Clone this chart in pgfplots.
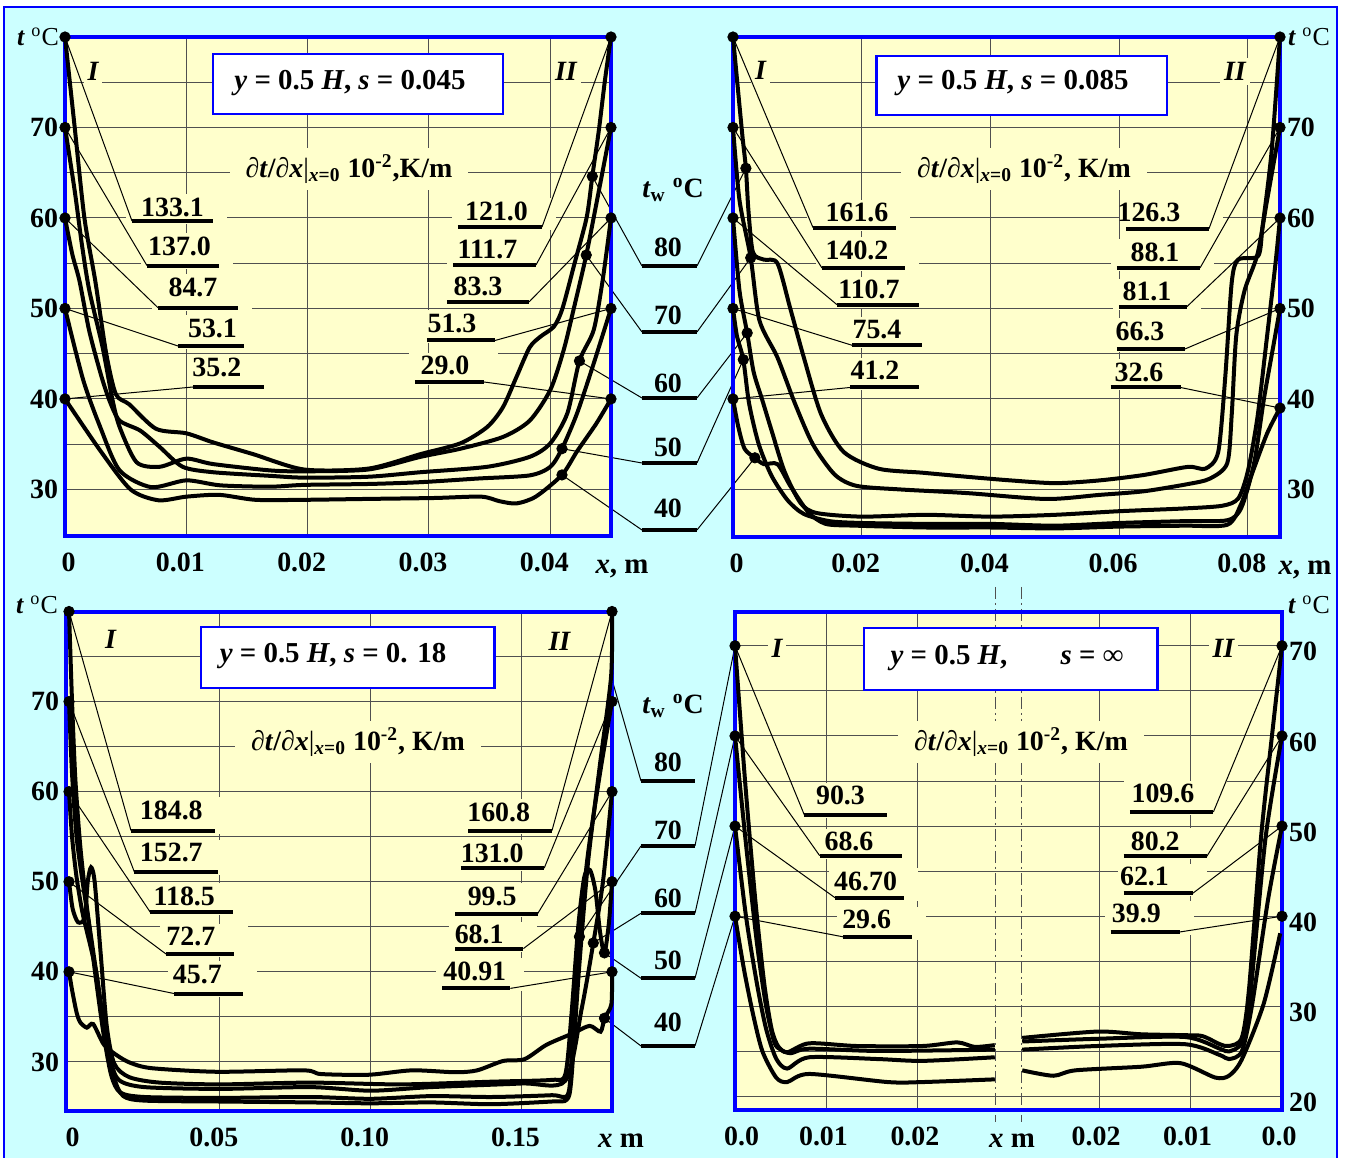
\documentclass[border=0pt]{standalone}
\usepackage{fontspec}
\setmainfont{Liberation Serif}
\usepackage{pgfplots}
\pgfplotsset{compat=1.18}
\definecolor{bgc}{HTML}{CCFFFF}
\definecolor{panel}{HTML}{FFFFCC}
\definecolor{fblue}{HTML}{0000FF}
\definecolor{gridc}{HTML}{505050}
\newcommand\fs[1]{\fontsize{#1}{#1}\selectfont}
\newcommand\bi[1]{\textbf{\textit{#1}}}
% underlined value inside a panel: text, xc, yc, x1, x2, yline (pixels)
\newcommand\ulab[6]{\fill[panel] ({#4-6},{#3-13}) rectangle ({#5+14},{#6+3});
  \node[font=\fs{14}\bfseries, inner sep=0pt] at (#2,#3) {#1};
  \draw[line width=2bp] (#4,#6) -- (#5,#6);}
\newcommand\twlab[6]{\node[font=\fs{14}\bfseries, inner sep=0pt] at (#2,#3) {#1};
  \draw[line width=2bp] (#4,#6) -- (#5,#6);}
\newcommand\dlab[3]{\node[fill=panel, inner xsep=8bp, inner ysep=3bp, font=\fs{14}\bfseries] at (#1,#2)
  {{\mdseries ∂}\textit{t}/{\mdseries ∂}\textit{x}{\mdseries |}\textsubscript{\textit{x}=0} 10\textsuperscript{-2}#3};}
\newcommand\tC[2]{\node[font=\fs{13}] at (#1,#2) {\bi{t} \textsuperscript{o}C};}
\newcommand\rom[3]{\node[fill=panel, inner sep=2bp, font=\fs{14}\bfseries\itshape] at (#1,#2) {#3};}

\pgfplotsset{
  gridax/.style={scale only axis, anchor=north west, axis background/.style={fill=panel},
    axis line style={draw=none}, grid=both,
    major grid style={draw=gridc, line width=0.5bp}, minor grid style={draw=gridc, line width=0.5bp},
    major tick length=0pt, minor tick length=0pt,
    tick label style={font=\fs{14}\bfseries}, xticklabel style={yshift=-5bp, xshift=-3bp},
    extra x tick style={grid=none, xticklabel style={xshift=4.8bp}},
    scaled x ticks=false, scaled y ticks=false},
  curveax/.style={scale only axis, anchor=north west, axis line style={draw=fblue, line width=2bp},
    xtick=\empty, ytick=\empty, clip=false, cycle list={{black,solid,no markers}},
    every axis plot/.append style={line width=2bp, black, smooth, tension=0.45}},
  dots/.style={only marks, mark=*, mark size=2.6bp, line width=0.4bp, black},
}

\begin{document}
\begin{tikzpicture}
\path[use as bounding box] (0,0) rectangle (673bp,-579bp);
\fill[white] (0,0) rectangle (673bp,-579bp);
\begin{scope}[x=0.5bp,y=-0.5bp]
\draw[fblue, line width=1bp, fill=bgc] (4,7) rectangle (1337,1175);
\end{scope}

% ---------- grids ----------
\begin{axis}[gridax, at={(32.5bp,-18.5bp)}, width=273bp, height=249.5bp,
  xmin=0, xmax=0.045, ymin=24.85, ymax=80,
  xtick={0.01,0.02,0.03,0.04}, xticklabels={0.01,0.02,0.03,0.04},
  extra x ticks={0}, extra x tick labels={0},
  ytick={30,40,50,60,70}, yticklabels={30,40,50,60,70}, minor ytick={35,45,55,65,75}]
\coordinate (aL80) at (axis cs:0,80); \coordinate (aL70) at (axis cs:0,70);
\coordinate (aL60) at (axis cs:0,60); \coordinate (aL50) at (axis cs:0,50);
\coordinate (aL40) at (axis cs:0,40);
\coordinate (aR80) at (axis cs:0.045,80); \coordinate (aR70) at (axis cs:0.045,70);
\coordinate (aR60) at (axis cs:0.045,60); \coordinate (aR50) at (axis cs:0.045,50);
\coordinate (aR40) at (axis cs:0.045,40);
\coordinate (aT80) at (axis cs:0.04346,64.6); \coordinate (aT70) at (axis cs:0.04296,55.9);
\coordinate (aT60) at (axis cs:0.0424,44.2); \coordinate (aT50) at (axis cs:0.04096,34.5);
\coordinate (aT40) at (axis cs:0.04096,31.6);
\end{axis}

\begin{axis}[gridax, at={(366.5bp,-18.5bp)}, width=273.5bp, height=250bp,
  xmin=0, xmax=0.085, ymin=24.75, ymax=80, yticklabel pos=right,
  xtick={0.02,0.04,0.06,0.08}, xticklabels={0.02,0.04,0.06,0.08},
  extra x ticks={0}, extra x tick labels={0},
  ytick={30,40,50,60,70}, yticklabels={30,40,50,60,70}, minor ytick={35,45,55,65,75}]
\coordinate (bL80) at (axis cs:0,80); \coordinate (bL70) at (axis cs:0,70);
\coordinate (bL60) at (axis cs:0,60); \coordinate (bL50) at (axis cs:0,50);
\coordinate (bL40) at (axis cs:0,40);
\coordinate (bR80) at (axis cs:0.085,80); \coordinate (bR70) at (axis cs:0.085,70);
\coordinate (bR60) at (axis cs:0.085,60); \coordinate (bR50) at (axis cs:0.085,50);
\coordinate (bR40) at (axis cs:0.085,39);
\coordinate (bT80) at (axis cs:0.0020,65.5); \coordinate (bT70) at (axis cs:0.00275,55.6);
\coordinate (bT60) at (axis cs:0.0022,47.3); \coordinate (bT50) at (axis cs:0.0016,44.35);
\coordinate (bT40) at (axis cs:0.0034,33.5);
\end{axis}

\begin{axis}[gridax, at={(33bp,-305.75bp)}, width=273bp, height=249.5bp,
  xmin=-0.001, xmax=0.18, ymin=24.6, ymax=80,
  xtick={0.05,0.10,0.15}, xticklabels={0.05,0.10,0.15},
  extra x ticks={0}, extra x tick labels={0},
  ytick={30,40,50,60,70}, yticklabels={30,40,50,60,70}, minor ytick={35,45,55,65,75}]
\coordinate (cL80) at (axis cs:0,80); \coordinate (cL70) at (axis cs:0,70);
\coordinate (cL60) at (axis cs:0,60); \coordinate (cL50) at (axis cs:0,50);
\coordinate (cL40) at (axis cs:0,40);
\coordinate (cR80) at (axis cs:0.18,80); \coordinate (cR70) at (axis cs:0.18,70);
\coordinate (cR60) at (axis cs:0.18,60); \coordinate (cR50) at (axis cs:0.18,50);
\coordinate (cR40) at (axis cs:0.18,40);
\coordinate (cT80) at (axis cs:0.1797,72.8); \coordinate (cT70) at (axis cs:0.1692,43.9);
\coordinate (cT60) at (axis cs:0.1738,43.2); \coordinate (cT50) at (axis cs:0.1775,42.1);
\coordinate (cT40) at (axis cs:0.1775,34.85);
\end{axis}

\begin{axis}[gridax, at={(367.5bp,-306bp)}, width=273.5bp, height=249bp,
  xmin=0, xmax=0.0598, ymin=18.5, ymax=73.75, yticklabel pos=right,
  xtick={0.01,0.02,0.0398,0.0498,0.0598}, xticklabels={0.01,0.02,0.02,0.01,0.0},
  extra x ticks={0}, extra x tick labels={0.0},
  xticklabel style={xshift=1.5bp},
  ytick={20,30,40,50,60,70}, yticklabels={20,30,40,50,60,70}, minor ytick={25,35,45,55,65},
  yticklabel style={yshift=-3bp}]
\coordinate (dL70) at (axis cs:0,70); \coordinate (dL60) at (axis cs:0,60);
\coordinate (dL50) at (axis cs:0,50); \coordinate (dL40) at (axis cs:0,40);
\coordinate (dR70) at (axis cs:0.0598,70); \coordinate (dR60) at (axis cs:0.0598,60);
\coordinate (dR50) at (axis cs:0.0598,50); \coordinate (dR40) at (axis cs:0.0598,40);
\end{axis}

% ---------- annotations (pixel units) ----------
\begin{scope}[x=0.5bp,y=-0.5bp, every path/.append style={line width=0.5bp}]
% panel 1
\draw[fblue, line width=1.2bp, fill=white] (213,54) rectangle (503,114);
\node[font=\fs{14.5}\bfseries] at (350,83) {\textit{y} = 0.5 \textit{H}, \textit{s} = 0.045};
\rom{93}{71.5}{I} \rom{566}{71.5}{II}
\dlab{349}{169}{,K/m}
\ulab{133.1}{172.5}{207}{132}{213}{221}
\ulab{137.0}{179.5}{246}{147}{219}{265.6}
\ulab{84.7}{193}{287}{158}{238}{307.7}
\ulab{53.1}{212.5}{328}{178}{244}{346}
\ulab{35.2}{216.8}{367}{193}{264}{387}
\ulab{121.0}{496.5}{211}{458}{542}{227}
\ulab{111.7}{487.5}{249}{453}{536}{265}
\ulab{83.3}{478}{286}{447}{529}{302}
\ulab{51.3}{452}{323.5}{427}{495}{340.5}
\ulab{29.0}{445}{365.7}{415}{484}{382}
\draw (132,221)--(aL80) (147,265.6)--(aL70) (158,307.7)--(aL60) (178,346)--(aL50) (193,387)--(aL40);
\draw (542,227)--(aR80) (536,265)--(aR70) (529,302)--(aR60) (495,340.5)--(aR50) (484,382)--(aR40);
\tC{38}{37}
\node[font=\fs{14.5}\bfseries] at (622,569) {\textit{x}, m};
% panel 2
\draw[fblue, line width=1.2bp, fill=white] (876.5,56) rectangle (1167,115);
\node[font=\fs{14.5}\bfseries] at (1013,83) {\textit{y} = 0.5 \textit{H}, \textit{s} = 0.085};
\rom{760.6}{70}{I} \rom{1235}{71.5}{II}
\dlab{1024}{169}{, K/m}
\ulab{161.6}{857}{212.6}{813}{896}{227.6}
\ulab{140.2}{857}{250}{822}{905}{268}
\ulab{110.7}{869}{289.7}{837}{919}{304.7}
\ulab{75.4}{877}{330}{852.5}{921.6}{345.4}
\ulab{41.2}{875}{370.6}{850}{919}{387.5}
\ulab{126.3}{1149}{212.6}{1126}{1209}{228.7}
\ulab{88.1}{1155}{252}{1117}{1200}{268}
\ulab{81.1}{1147}{291.6}{1119}{1187}{306.6}
\ulab{66.3}{1140}{331}{1117}{1185}{349}
\ulab{32.6}{1139}{372.5}{1110.6}{1180.6}{387.5}
\draw (813,227.6)--(bL80) (822,268)--(bL70) (837,304.7)--(bL60) (852.5,345.4)--(bL50) (850,387.5)--(bL40);
\draw (1209,228.7)--(bR80) (1200,268)--(bR70) (1187,306.6)--(bR60) (1185,349)--(bR50) (1180.6,387.5)--(bR40);
\tC{1309}{37}
\node[font=\fs{14.5}\bfseries] at (1305,570) {\textit{x}, m};
% panel 3
\draw[fblue, line width=1.2bp, fill=white] (201,627) rectangle (494.4,688);
\node[font=\fs{14.5}\bfseries] at (333,656) {\textit{y} = 0.5 \textit{H}, \textit{s} = 0. 18};
\rom{110.6}{639}{I} \rom{559.4}{641}{II}
\dlab{358}{742}{, K/m}
\ulab{184.8}{171.3}{810.4}{131}{214.7}{830.6}
\ulab{152.7}{171.3}{852.8}{134.4}{217.7}{872}
\ulab{118.5}{184.3}{896.3}{150.5}{233.3}{912.5}
\ulab{72.7}{190.8}{936.8}{166}{234.2}{954}
\ulab{45.7}{197.3}{974.4}{174.3}{242.8}{993.6}
\ulab{160.8}{498.7}{812.2}{468.3}{552}{830.6}
\ulab{131.0}{492.2}{853.5}{461}{544.2}{868.2}
\ulab{99.5}{492.2}{896.3}{455.3}{537.7}{913.6}
\ulab{68.1}{479.2}{934.6}{455.3}{523.4}{948.6}
\ulab{40.91}{474.8}{971.4}{442.3}{510.4}{988.4}
\draw (131,830.6)--(cL80) (134.4,872)--(cL70) (150.5,912.5)--(cL60) (166,954)--(cL50) (174.3,993.6)--(cL40);
\draw (552,830.6)--(cR80) (544.2,868.2)--(cR70) (537.7,913.6)--(cR60) (523.4,948.6)--(cR50) (510.4,988.4)--(cR40);
\tC{37}{605}
\node[font=\fs{14.5}\bfseries] at (621,1141) {\textit{x} m};
% panel 4
\draw[gridc, dash pattern=on 6bp off 2bp on 1bp off 2bp] (996,587) -- (996,1122) (1021.3,587) -- (1021.3,1122);
\draw[fblue, line width=1.2bp, fill=white] (864.3,628) rectangle (1157.4,690);
\node[font=\fs{14.5}\bfseries] at (949,658) {\textit{y} = 0.5 \textit{H},};
\node[font=\fs{14.5}\bfseries] at (1092,658) {\textit{s} = ∞};
\rom{777}{648}{I} \rom{1223.4}{648}{II}
\dlab{1021}{742}{, K/m}
\ulab{90.3}{840.5}{795.6}{804.4}{886.6}{815}
\ulab{68.6}{849}{841.7}{819.7}{902}{855.7}
\ulab{46.70}{865.6}{881.5}{835}{903.7}{897.7}
\ulab{29.6}{866.7}{919.8}{842.9}{912.4}{936.8}
\ulab{109.6}{1163}{793.8}{1130}{1213.4}{812}
\ulab{80.2}{1155.3}{841}{1123.7}{1206.8}{856.4}
\ulab{62.1}{1144.5}{876.7}{1123.7}{1192.8}{893.3}
\ulab{39.9}{1136.4}{913.6}{1110.6}{1179.7}{932}
\draw (804.4,815)--(dL70) (819.7,855.7)--(dL60) (835,897.7)--(dL50) (842.9,936.8)--(dL40);
\draw (1213.4,812)--(dR70) (1206.8,856.4)--(dR60) (1192.8,893.3)--(dR50) (1179.7,932)--(dR40);
\tC{1309}{605}
\node[font=\fs{14.5}\bfseries] at (1012,1141) {\textit{x} m};
% wall temperature column, top
\node[font=\fs{14}\bfseries] at (673,190) {\textit{t}\textsubscript{w} \textsuperscript{o}C};
\twlab{80}{668}{247}{642}{697}{266}
\twlab{70}{668}{315}{642}{697}{332}
\twlab{60}{668}{383}{642}{697}{398}
\twlab{50}{668}{447}{642}{697}{463}
\twlab{40}{668}{508}{642}{697}{530}
\draw (642,266)--(aT80) (642,332)--(aT70) (642,398)--(aT60) (642,463)--(aT50) (642,530)--(aT40);
\draw (697,266)--(bT80) (697,332)--(bT70) (697,398)--(bT60) (697,463)--(bT50) (697,530)--(bT40);
% wall temperature column, bottom
\node[font=\fs{14}\bfseries] at (673,706) {\textit{t}\textsubscript{w} \textsuperscript{o}C};
\twlab{80}{668}{762}{641}{695}{781}
\twlab{70}{668}{830}{641}{695}{846}
\twlab{60}{668}{898}{641}{695}{913.3}
\twlab{50}{668}{960}{641}{695}{978.3}
\twlab{40}{668}{1022}{641}{695}{1046}
\draw (641,781)--(cT80) (641,846)--(cT70) (641,913.3)--(cT60) (641,978.3)--(cT50) (641,1046)--(cT40);
\draw (695,846)--(dL70) (695,913.3)--(dL60) (695,978.3)--(dL50) (695,1046)--(dL40);
\end{scope}

% ---------- curves ----------
\begin{axis}[curveax, at={(32.5bp,-18.5bp)}, width=273bp, height=249.5bp,
  xmin=0, xmax=0.045, ymin=24.85, ymax=80]
\addplot coordinates {(0,80) (0.0008,70) (0.0016,60) (0.0025,53) (0.0034,45) (0.0042,40.5) (0.0053,39.4) (0.0075,36.7) (0.0100,36.2) (0.0122,35.2) (0.0155,33.9) (0.0197,32.2) (0.0250,32.3) (0.0293,33.9) (0.0326,35.1) (0.0348,36.9) (0.0361,39.1) (0.0372,42.4) (0.0383,45.7) (0.0392,46.9) (0.0403,48.0) (0.0410,50.0) (0.0420,55.0) (0.0430,60.1) (0.04346,64.6) (0.0440,69.7) (0.0445,75.2) (0.045,80)};
\addplot coordinates {(0,70) (0.0008,63) (0.0014,57) (0.0020,52) (0.0031,45.7) (0.0039,40.0) (0.0045,36.9) (0.0059,33.0) (0.0078,32.5) (0.0100,33.4) (0.0122,32.8) (0.0169,32.1) (0.0197,32.0) (0.0250,32.2) (0.0293,33.6) (0.0326,34.5) (0.0361,35.8) (0.0383,37.6) (0.0400,41.0) (0.0411,45.4) (0.0419,49.8) (0.04296,55.9) (0.0440,63.0) (0.045,70)};
\addplot coordinates {(0,60) (0.0006,56) (0.0012,53) (0.0020,47.5) (0.0030,42.5) (0.0037,39.7) (0.0045,37.6) (0.0062,36.5) (0.0078,34.7) (0.0097,32.5) (0.0122,31.9) (0.0169,31.5) (0.0197,31.3) (0.0250,31.4) (0.0293,31.9) (0.0348,32.5) (0.0383,33.6) (0.0400,35.1) (0.0414,38.4) (0.0424,44.2) (0.04357,47.6) (0.0443,53.0) (0.045,60)};
\addplot coordinates {(0,50) (0.0015,42.1) (0.0029,36.9) (0.0045,32.1) (0.0071,30.25) (0.0100,31.0) (0.0128,30.45) (0.0169,30.3) (0.0197,30.5) (0.0250,30.6) (0.0293,30.8) (0.0340,31.2) (0.0383,31.55) (0.0400,32.5) (0.04096,34.5) (0.0422,38.4) (0.04357,43.9) (0.045,50)};
\addplot coordinates {(0,40) (0.0029,34.3) (0.0054,30.0) (0.0077,28.8) (0.0100,29.2) (0.0127,29.4) (0.0157,28.85) (0.0197,28.85) (0.0250,28.95) (0.0304,29.05) (0.0343,29.2) (0.0358,28.7) (0.0372,28.45) (0.0388,29.2) (0.04096,31.6) (0.0422,34.2) (0.0438,37.3) (0.045,40)};
\addplot[dots] coordinates {(0,80) (0,70) (0,60) (0,50) (0,40) (0.045,80) (0.045,70) (0.045,60) (0.045,50) (0.045,40) (0.04346,64.6) (0.04296,55.9) (0.0424,44.2) (0.04096,34.5) (0.04096,31.6)};
\end{axis}

\begin{axis}[curveax, at={(366.5bp,-18.5bp)}, width=273.5bp, height=250bp,
  xmin=0, xmax=0.085, ymin=24.75, ymax=80]
\addplot coordinates {(0,80) (0.0014,69.5) (0.0020,65.5) (0.0024,60.8) (0.0031,56.2) (0.0048,55.4) (0.0069,55.0) (0.0089,50.0) (0.0110,44.6) (0.0137,38.3) (0.0172,34.15) (0.0226,32.3) (0.0295,31.85) (0.0364,31.4) (0.0432,31.0) (0.0501,30.7) (0.0569,31.0) (0.0638,31.6) (0.0707,32.5) (0.0734,32.3) (0.0754,34.15) (0.0765,42.5) (0.0775,52.9) (0.0785,55.4) (0.0816,55.8) (0.0823,59.1) (0.0837,67.4) (0.085,80)};
\addplot coordinates {(0,70) (0.0010,62) (0.00275,55.6) (0.0041,48.7) (0.0069,44.6) (0.0096,39.55) (0.0124,35.0) (0.0158,31.65) (0.0192,30.4) (0.0261,30.0) (0.0364,29.6) (0.0487,28.95) (0.0569,29.4) (0.0638,29.8) (0.0707,30.6) (0.0741,31.2) (0.0768,32.9) (0.0775,38.3) (0.0782,47) (0.0795,52) (0.0815,56) (0.0830,62) (0.085,70)};
\addplot coordinates {(0,60) (0.0010,52) (0.0022,47.3) (0.0032,43) (0.0045,40) (0.0060,36.5) (0.0080,32) (0.0105,28.5) (0.0130,27.4) (0.0200,27.0) (0.0300,27.2) (0.0400,27.0) (0.0500,27.2) (0.0600,27.6) (0.0700,27.9) (0.0760,28.2) (0.0785,29.0) (0.0800,32) (0.0815,38) (0.0830,47) (0.0843,55) (0.085,60)};
\addplot coordinates {(0,50) (0.0006,47) (0.0016,44.35) (0.0025,39.5) (0.0040,35) (0.0060,31.5) (0.0085,28.8) (0.0110,27.3) (0.0150,26.5) (0.0200,26.3) (0.0300,26.2) (0.0400,26.2) (0.0500,26.0) (0.0600,26.3) (0.0700,26.5) (0.0768,26.6) (0.0790,28.0) (0.0810,33.0) (0.0825,40.0) (0.0840,46.0) (0.085,50)};
\addplot coordinates {(0,40) (0.0008,37) (0.0018,34.5) (0.0034,33.5) (0.0048,32.8) (0.0069,32.8) (0.0089,30.4) (0.0117,27.5) (0.0144,26.2) (0.0192,26.0) (0.0300,25.8) (0.0400,25.8) (0.0500,25.7) (0.0600,25.9) (0.0700,26.0) (0.0768,26.1) (0.0789,28.3) (0.0806,31.65) (0.0830,36.2) (0.085,39)};
\addplot[dots] coordinates {(0,80) (0,70) (0,60) (0,50) (0,40) (0.085,80) (0.085,70) (0.085,60) (0.085,50) (0.085,39) (0.0020,65.5) (0.00275,55.6) (0.0022,47.3) (0.0016,44.35) (0.0034,33.5)};
\end{axis}

\begin{axis}[curveax, at={(33bp,-305.75bp)}, width=273bp, height=249.5bp,
  xmin=-0.001, xmax=0.18, ymin=24.6, ymax=80]
\addplot coordinates {(0,80) (0.0010,70) (0.0020,62) (0.0030,57) (0.0040,53) (0.0060,47) (0.0090,40) (0.0120,33) (0.0150,28.2) (0.0180,26.2) (0.0250,25.7) (0.0500,25.6) (0.0800,25.5) (0.1000,25.4) (0.1200,25.5) (0.1400,25.3) (0.1600,25.6) (0.1650,25.8) (0.1665,28) (0.1690,40) (0.1720,52) (0.1760,63) (0.1797,72.8) (0.18,80)};
\addplot coordinates {(0,70) (0.0010,62) (0.0025,55) (0.0045,50) (0.0065,45.5) (0.0090,39) (0.0115,33) (0.0140,28.5) (0.0170,26.6) (0.0250,26.1) (0.0500,26.0) (0.0800,26.1) (0.1000,25.9) (0.1200,26.2) (0.1400,26.1) (0.1600,26.3) (0.1655,26.5) (0.1670,33) (0.1692,43.9) (0.1720,53) (0.1760,62) (0.18,70)};
\addplot coordinates {(0,60) (0.0010,55) (0.0025,50.5) (0.0045,46.5) (0.0070,43) (0.0090,40) (0.0110,35.5) (0.0135,30.5) (0.0165,28.0) (0.0250,27.2) (0.0500,27.0) (0.0800,27.2) (0.1000,26.8) (0.1200,27.2) (0.1500,27.6) (0.1645,27.9) (0.1700,36) (0.1738,43.2) (0.1770,50) (0.18,60)};
\addplot coordinates {(0,50) (0.0012,47.0) (0.0030,45.5) (0.0052,46.0) (0.0062,50.0) (0.0073,51.6) (0.0085,50.0) (0.0105,42.0) (0.0125,34.0) (0.0150,29.8) (0.0200,28.3) (0.0300,27.7) (0.0500,27.5) (0.0800,27.7) (0.1100,27.5) (0.1400,27.8) (0.1600,28.0) (0.1645,28.6) (0.1665,35.0) (0.1688,45.0) (0.1708,50.5) (0.1727,51.3) (0.1745,49.0) (0.1760,44.5) (0.1775,42.1) (0.1790,45.5) (0.18,50)};
\addplot coordinates {(0,40) (0.0010,38.0) (0.0025,35.5) (0.0037,34.4) (0.0059,33.8) (0.0080,34.2) (0.0116,31.9) (0.0160,30.7) (0.0203,29.9) (0.0274,29.3) (0.0490,28.9) (0.0778,29.06) (0.0835,28.65) (0.0993,28.57) (0.1137,29.06) (0.1280,28.85) (0.1353,29.06) (0.1439,30.1) (0.1510,30.3) (0.1583,31.9) (0.1669,33.15) (0.1726,34.0) (0.1762,33.35) (0.1775,34.85) (0.1798,36.4) (0.18,40)};
\addplot[dots] coordinates {(0,80) (0,70) (0,60) (0,50) (0,40) (0.18,80) (0.18,70) (0.18,60) (0.18,50) (0.18,40) (0.1692,43.9) (0.1738,43.2) (0.1775,42.1) (0.1775,34.85)};
\end{axis}

\begin{axis}[curveax, at={(367.5bp,-306bp)}, width=273.5bp, height=249bp,
  xmin=0, xmax=0.0598, ymin=18.5, ymax=73.75]
\addplot coordinates {(0,70) (0.0011,55) (0.0022,42) (0.0032,32.5) (0.0040,27.5) (0.0047,25.6) (0.0057,24.9) (0.0081,25.9) (0.0133,25.6) (0.0205,25.6) (0.0243,26.0) (0.0262,25.5) (0.0284,25.7)};
\addplot coordinates {(0,60) (0.0012,48) (0.0024,37) (0.0034,30) (0.0043,26) (0.0050,25.2) (0.0061,24.8) (0.0081,25.3) (0.0157,25.05) (0.0284,25.2)};
\addplot coordinates {(0,50) (0.0012,40) (0.0024,32.5) (0.0034,27.5) (0.0045,24.2) (0.0057,23.1) (0.0081,24.35) (0.0157,24.15) (0.0205,23.95) (0.0284,24.35)};
\addplot coordinates {(0,40) (0.0010,34) (0.0020,29) (0.0030,25) (0.0045,22.1) (0.0057,21.6) (0.0081,22.5) (0.0167,21.6) (0.0205,21.6) (0.0284,21.9)};
\addplot coordinates {(0.0314,26.5) (0.0396,27.2) (0.0444,26.9) (0.0492,26.8) (0.0511,26.7) (0.0530,25.8) (0.0540,25.6) (0.0554,26.5) (0.0562,32) (0.0575,48.7) (0.0587,60) (0.0598,70)};
\addplot coordinates {(0.0314,26.1) (0.0396,26.4) (0.0492,26.6) (0.0530,25.3) (0.0540,25.0) (0.0554,26) (0.0563,31) (0.0580,48.7) (0.0598,60)};
\addplot coordinates {(0.0314,25.2) (0.0396,25.6) (0.0492,25.8) (0.0530,24.6) (0.0540,24.15) (0.0554,25) (0.0565,30) (0.0583,42) (0.0598,50)};
\addplot coordinates {(0.0314,22.9) (0.0348,22.3) (0.0372,22.9) (0.0444,23.3) (0.0487,23.7) (0.0525,22.1) (0.0540,22.3) (0.0554,24.1) (0.0578,30.3) (0.0596,38.1)};
\addplot[dots] coordinates {(0,70) (0,60) (0,50) (0,40) (0.0598,70) (0.0598,60) (0.0598,50) (0.0598,40)};
\end{axis}
\end{tikzpicture}
\end{document}
